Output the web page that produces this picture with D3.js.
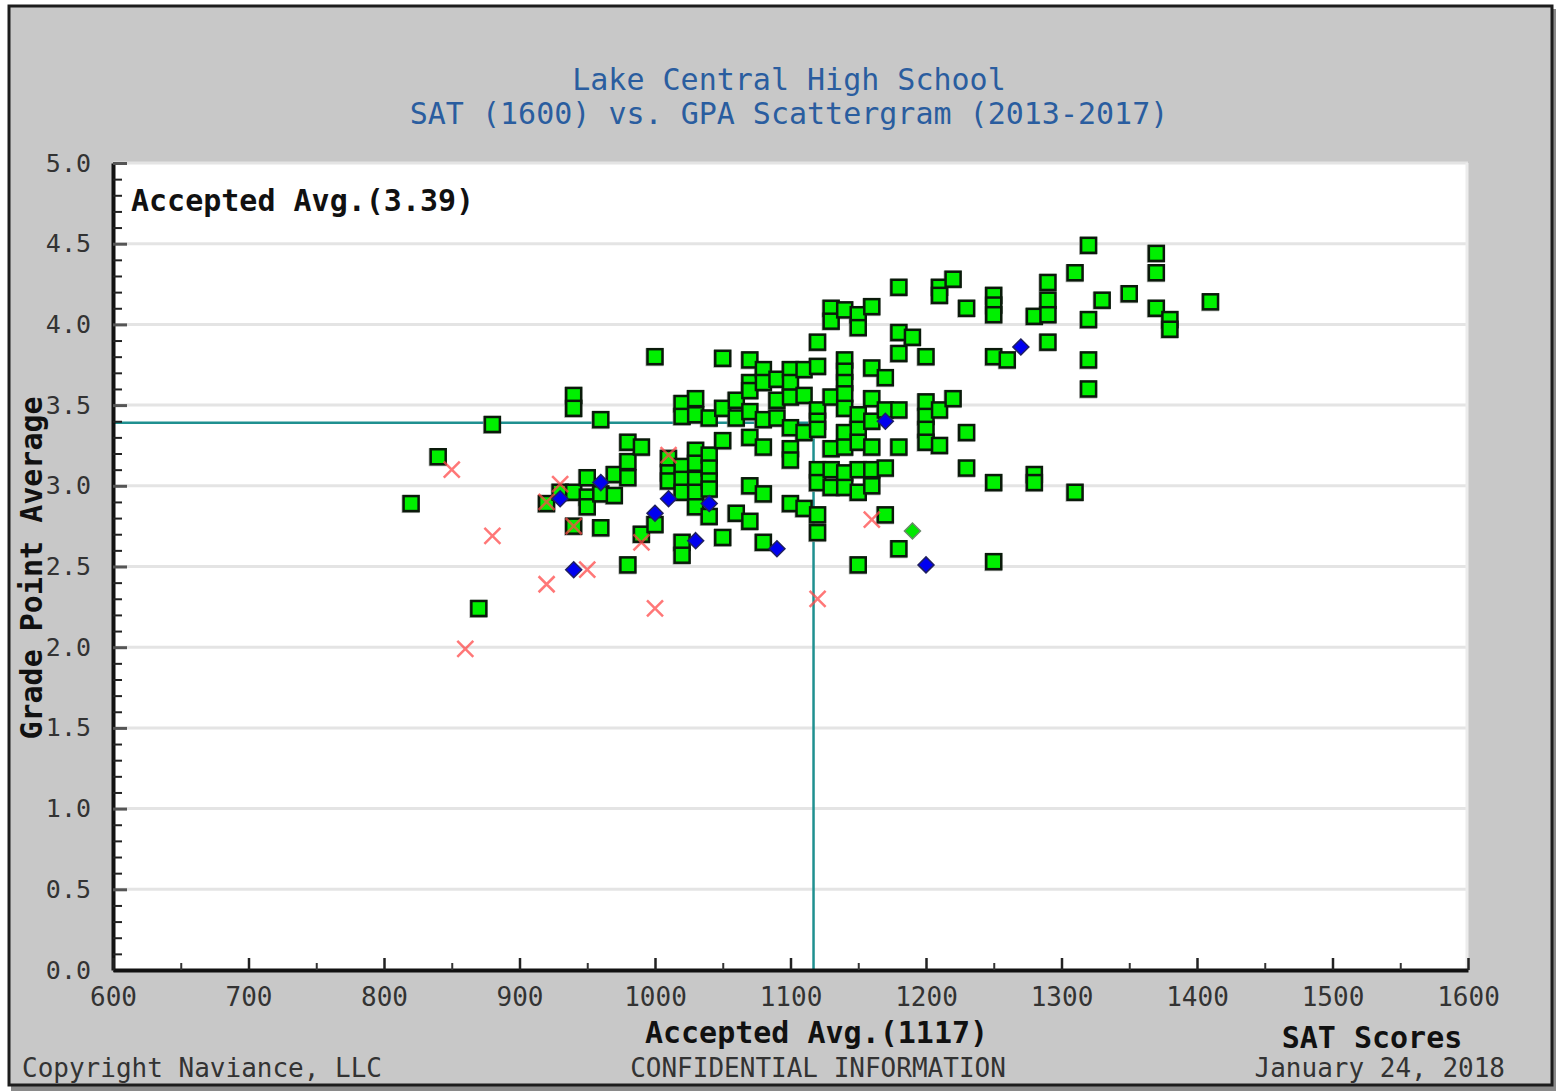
<!DOCTYPE html>
<html>
<head>
<meta charset="utf-8">
<script src="https://cdn.jsdelivr.net/npm/d3@7"></script>
<style>
  html, body { margin: 0; padding: 0; background: #ffffff; }
  svg { display: block; }
  text { font-family: "DejaVu Sans Mono", "Liberation Mono", monospace; }
</style>
</head>
<body>
<svg id="chart" width="1556" height="1091"></svg>
<script>
const TITLE_LINES = ["Lake Central High School", "SAT (1600) vs. GPA Scattergram (2013-2017)"];
const X_TICKS = [600, 700, 800, 900, 1000, 1100, 1200, 1300, 1400, 1500, 1600];
const X_MINOR = [650, 750, 850, 950, 1050, 1150, 1250, 1350, 1450, 1550];
const Y_TICKS = [0, 0.5, 1, 1.5, 2, 2.5, 3, 3.5, 4, 4.5, 5];
const Y_MINOR = d3.range(1, 50).map((i) => i / 10);
const AVG_SAT = 1117;
const AVG_GPA = 3.39;

// [SAT, GPA] pairs
const accepted = [
  [820, 2.89], [840, 3.18], [870, 2.24], [880, 3.38], [920, 2.89], [930, 2.96],
  [940, 3.56], [940, 3.48], [940, 2.96], [940, 2.75],
  [950, 3.05], [950, 2.93], [950, 2.87],
  [960, 3.41], [960, 2.95], [960, 2.74],
  [970, 3.07], [970, 2.94],
  [980, 3.27], [980, 3.15], [980, 3.05], [980, 2.51],
  [990, 3.24], [990, 2.70],
  [1000, 3.80], [1000, 2.76],
  [1010, 3.17], [1010, 3.08], [1010, 3.03],
  [1020, 3.51], [1020, 3.43], [1020, 3.12], [1020, 3.04], [1020, 2.96], [1020, 2.65], [1020, 2.57],
  [1030, 3.54], [1030, 3.44], [1030, 3.22], [1030, 3.14], [1030, 3.04], [1030, 2.96], [1030, 2.87],
  [1040, 3.42], [1040, 3.19], [1040, 3.11], [1040, 3.03], [1040, 2.98], [1040, 2.81],
  [1050, 3.79], [1050, 3.48], [1050, 3.28], [1050, 2.68],
  [1060, 3.53], [1060, 3.42], [1060, 2.83],
  [1070, 3.78], [1070, 3.64], [1070, 3.59], [1070, 3.46], [1070, 3.30], [1070, 3.00], [1070, 2.78],
  [1080, 3.72], [1080, 3.64], [1080, 3.41], [1080, 3.24], [1080, 2.95], [1080, 2.65],
  [1090, 3.66], [1090, 3.53], [1090, 3.42],
  [1100, 3.72], [1100, 3.64], [1100, 3.55], [1100, 3.36], [1100, 3.23], [1100, 3.16], [1100, 2.89],
  [1110, 3.72], [1110, 3.56], [1110, 3.33], [1110, 2.86],
  [1120, 3.89], [1120, 3.74], [1120, 3.47], [1120, 3.40], [1120, 3.35], [1120, 3.10], [1120, 3.02], [1120, 2.82], [1120, 2.71],
  [1130, 4.10], [1130, 4.02], [1130, 3.55], [1130, 3.23], [1130, 3.10], [1130, 2.99],
  [1140, 4.09], [1140, 3.78], [1140, 3.71], [1140, 3.64], [1140, 3.57], [1140, 3.48], [1140, 3.33], [1140, 3.24], [1140, 3.08], [1140, 2.99],
  [1150, 4.06], [1150, 3.98], [1150, 3.44], [1150, 3.35], [1150, 3.27], [1150, 3.10], [1150, 2.96], [1150, 2.51],
  [1160, 4.11], [1160, 3.73], [1160, 3.54], [1160, 3.40], [1160, 3.24], [1160, 3.10], [1160, 3.00],
  [1170, 3.67], [1170, 3.47], [1170, 3.11], [1170, 2.82],
  [1180, 4.23], [1180, 3.95], [1180, 3.82], [1180, 3.47], [1180, 3.24], [1180, 2.61],
  [1190, 3.92],
  [1200, 3.80], [1200, 3.52], [1200, 3.43], [1200, 3.35], [1200, 3.27],
  [1210, 4.23], [1210, 4.18], [1210, 3.47], [1210, 3.25],
  [1220, 4.28], [1220, 3.54],
  [1230, 4.10], [1230, 3.33], [1230, 3.11],
  [1250, 4.18], [1250, 4.12], [1250, 4.06], [1250, 3.80], [1250, 3.02], [1250, 2.53],
  [1260, 3.78],
  [1280, 4.05], [1280, 3.07], [1280, 3.02],
  [1290, 4.26], [1290, 4.15], [1290, 4.06], [1290, 3.89],
  [1310, 4.32], [1310, 2.96],
  [1320, 4.49], [1320, 4.03], [1320, 3.78], [1320, 3.60],
  [1330, 4.15], [1350, 4.19],
  [1370, 4.44], [1370, 4.32], [1370, 4.10],
  [1380, 4.03], [1380, 3.97],
  [1410, 4.14]
];
const acceptedOther = [[1190, 2.72]];
const waitlisted = [
  [930, 2.92], [940, 2.48], [960, 3.02], [1000, 2.83], [1010, 2.92], [1030, 2.66],
  [1040, 2.89], [1090, 2.61], [1170, 3.40], [1200, 2.51], [1270, 3.86]
];
const denied = [
  [850, 3.10], [860, 1.99], [880, 2.69], [920, 2.39], [920, 2.90], [930, 3.01],
  [940, 2.75], [950, 2.48], [990, 2.65], [1000, 2.24], [1010, 3.19], [1120, 2.30], [1160, 2.79]
];

const svg = d3.select("#chart");
const plot = { left: 113, right: 1468, top: 163, bottom: 970 };

const x = d3.scaleLinear().domain([600, 1600]).range([plot.left, plot.right]);
const y = d3.scaleLinear().domain([0, 5]).range([plot.bottom, plot.top]);

// frame
svg.append("rect").attr("x", 11).attr("y", 9).attr("width", 1545).attr("height", 1082).attr("fill", "#8a8a8a");
svg.append("rect")
  .attr("x", 9).attr("y", 6).attr("width", 1543).attr("height", 1079)
  .attr("fill", "#c8c8c8").attr("stroke", "#1c1c1c").attr("stroke-width", 3);

svg.append("rect")
  .attr("x", plot.left).attr("y", plot.top)
  .attr("width", plot.right - plot.left).attr("height", plot.bottom - plot.top)
  .attr("fill", "#ffffff");

// title
svg.selectAll(".title")
  .data(TITLE_LINES)
  .join("text")
  .attr("class", "title")
  .attr("x", 789)
  .attr("y", (d, i) => 90 + i * 34)
  .attr("text-anchor", "middle")
  .attr("font-size", 30)
  .attr("fill", "#2a5d9f")
  .text((d) => d);

// grid
svg.append("g")
  .selectAll("line")
  .data(Y_TICKS.filter((d) => d > 0))
  .join("line")
  .attr("x1", plot.left).attr("x2", plot.right)
  .attr("y1", (d) => y(d)).attr("y2", (d) => y(d))
  .attr("stroke", "#e4e4e4").attr("stroke-width", 3);
svg.append("line")
  .attr("x1", plot.right - 1).attr("x2", plot.right - 1)
  .attr("y1", plot.top).attr("y2", plot.bottom)
  .attr("stroke", "#ececec").attr("stroke-width", 3);

// accepted average lines
svg.append("line")
  .attr("x1", plot.left).attr("x2", x(AVG_SAT))
  .attr("y1", y(AVG_GPA)).attr("y2", y(AVG_GPA))
  .attr("stroke", "#1f9090").attr("stroke-width", 2.5);
svg.append("line")
  .attr("x1", x(AVG_SAT)).attr("x2", x(AVG_SAT))
  .attr("y1", y(AVG_GPA)).attr("y2", plot.bottom)
  .attr("stroke", "#1f9090").attr("stroke-width", 2.5);

// axes
const yAxis = svg.append("g")
  .attr("transform", `translate(${plot.left},0)`)
  .call(d3.axisLeft(y).tickValues(Y_TICKS).tickFormat(d3.format(".1f")).tickSizeInner(-14).tickSizeOuter(0).tickPadding(22));
yAxis.selectAll(".tick line").attr("stroke", "#555").attr("stroke-width", 3);
yAxis.selectAll("text").attr("font-size", 25).attr("fill", "#333");
yAxis.select(".domain").attr("stroke", "#111").attr("stroke-width", 4);

svg.append("g")
  .attr("transform", `translate(${plot.left},0)`)
  .call(d3.axisLeft(y).tickValues(Y_MINOR.filter((d) => Math.round(d * 10) % 5 !== 0)).tickFormat("").tickSizeInner(-9).tickSizeOuter(0))
  .call((g) => g.select(".domain").remove())
  .selectAll(".tick line").attr("stroke", "#222").attr("stroke-width", 2);

const xAxis = svg.append("g")
  .attr("transform", `translate(0,${plot.bottom})`)
  .call(d3.axisBottom(x).tickValues(X_TICKS).tickFormat(d3.format("d")).tickSizeInner(-12).tickSizeOuter(0).tickPadding(18));
xAxis.selectAll(".tick line").attr("stroke", "#222").attr("stroke-width", 2.5);
xAxis.selectAll("text").attr("font-size", 26).attr("fill", "#333");
xAxis.select(".domain").attr("stroke", "#111").attr("stroke-width", 4);

svg.append("g")
  .attr("transform", `translate(0,${plot.bottom})`)
  .call(d3.axisBottom(x).tickValues(X_MINOR).tickFormat("").tickSizeInner(-7).tickSizeOuter(0))
  .call((g) => g.select(".domain").remove())
  .selectAll(".tick line").attr("stroke", "#333").attr("stroke-width", 2);

// markers
const S = 15;
const marks = svg.append("g");

marks.selectAll(".sq-shadow")
  .data(accepted)
  .join("rect")
  .attr("class", "sq-shadow")
  .attr("x", (d) => x(d[0]) - S / 2 - 2)
  .attr("y", (d) => y(d[1]) - S / 2 - 1)
  .attr("width", S + 3).attr("height", S + 3)
  .attr("fill", "#9a9a9a").attr("opacity", 0.8);

marks.selectAll(".sq")
  .data(accepted)
  .join("rect")
  .attr("class", "sq")
  .attr("x", (d) => x(d[0]) - S / 2)
  .attr("y", (d) => y(d[1]) - S / 2)
  .attr("width", S).attr("height", S)
  .attr("fill", "#00f000").attr("stroke", "#0a1a0a").attr("stroke-width", 2.5);

const diamond = (d, r) => {
  const cx = x(d[0]);
  const cy = y(d[1]);
  return `M${cx},${cy - r}L${cx + r},${cy}L${cx},${cy + r}L${cx - r},${cy}Z`;
};

marks.selectAll(".dg")
  .data(acceptedOther)
  .join("path")
  .attr("class", "dg")
  .attr("d", (d) => diamond(d, 8))
  .attr("fill", "#00e800").attr("stroke", "#6a8a6a").attr("stroke-width", 1.5);

marks.selectAll(".dn")
  .data(denied)
  .join("path")
  .attr("class", "dn")
  .attr("d", (d) => {
    const cx = x(d[0]);
    const cy = y(d[1]);
    return `M${cx - 8},${cy - 8}L${cx + 8},${cy + 8}M${cx + 8},${cy - 8}L${cx - 8},${cy + 8}`;
  })
  .attr("stroke", "#ff4a4a").attr("stroke-width", 2.5).attr("opacity", 0.75);

marks.selectAll(".wl")
  .data(waitlisted)
  .join("path")
  .attr("class", "wl")
  .attr("d", (d) => diamond(d, 8))
  .attr("fill", "#0000f0").attr("stroke", "#202060").attr("stroke-width", 1.5);

// labels
svg.append("text")
  .attr("x", 131).attr("y", 211)
  .attr("font-size", 30).attr("font-weight", "bold").attr("fill", "#111")
  .text(`Accepted Avg.(${AVG_GPA})`);

svg.append("text")
  .attr("x", x(AVG_SAT) + 3).attr("y", 1043)
  .attr("text-anchor", "middle")
  .attr("font-size", 30).attr("font-weight", "bold").attr("fill", "#111")
  .text(`Accepted Avg.(${AVG_SAT})`);

svg.append("text")
  .attr("x", 1372).attr("y", 1048)
  .attr("text-anchor", "middle")
  .attr("font-size", 30).attr("font-weight", "bold").attr("fill", "#111")
  .text("SAT Scores");

svg.append("text")
  .attr("transform", "translate(42,568) rotate(-90)")
  .attr("text-anchor", "middle")
  .attr("font-size", 30).attr("font-weight", "bold").attr("fill", "#111")
  .text("Grade Point Average");

const footer = [
  { text: "Copyright Naviance, LLC", x: 22, anchor: "start" },
  { text: "CONFIDENTIAL INFORMATION", x: 818, anchor: "middle" },
  { text: "January 24, 2018", x: 1505, anchor: "end" }
];
svg.selectAll(".footer")
  .data(footer)
  .join("text")
  .attr("class", "footer")
  .attr("x", (d) => d.x).attr("y", 1077)
  .attr("text-anchor", (d) => d.anchor)
  .attr("font-size", 26).attr("fill", "#333")
  .text((d) => d.text);
</script>
</body>
</html>
